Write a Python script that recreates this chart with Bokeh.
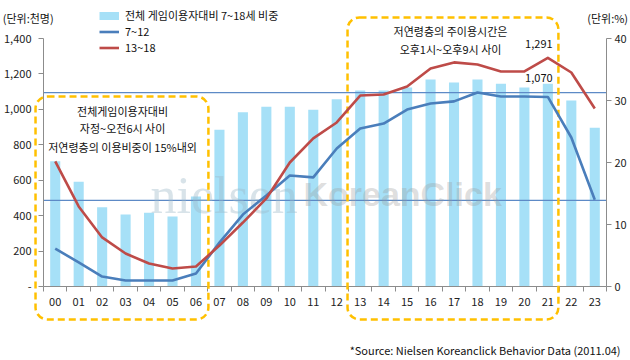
from bokeh.plotting import figure
from bokeh.models import (Range1d, LinearAxis, FixedTicker, NumeralTickFormatter,
                          BoxAnnotation, Label, Legend, LegendItem)
from bokeh.embed import file_html
from bokeh.resources import INLINE

# ---- data ----
hours = ["00", "01", "02", "03", "04", "05", "06", "07", "08", "09", "10", "11",
         "12", "13", "14", "15", "16", "17", "18", "19", "20", "21", "22", "23"]
share_pct = [20.2, 16.9, 12.8, 11.6, 11.9, 11.3, 14.5, 25.3, 28.1, 29.0, 29.0, 28.5,
             30.2, 31.6, 31.6, 32.1, 33.4, 32.9, 33.4, 32.7, 32.1, 32.7, 30.0, 25.6]
age_7_12 = [214, 136, 56, 34, 34, 34, 73, 248, 406, 514, 627, 616,
            779, 892, 920, 999, 1033, 1045, 1095, 1073, 1073, 1070, 841, 490]
age_13_18 = [706, 452, 277, 186, 130, 102, 113, 231, 361, 497, 700, 836,
             926, 1078, 1084, 1129, 1231, 1265, 1253, 1214, 1214, 1291, 1208, 1005]
ref_levels = [1095, 486]
left_ticks = [0, 200, 400, 600, 800, 1000, 1200, 1400]
right_ticks = [0, 10, 20, 30, 40]
series_names = ["전체 게임이용자대비 7~18세 비중", "7~12", "13~18"]
peak_hour = 21

KR = "Noto Sans CJK KR"
BAR = "#A6E0F7"
BLUE = "#4A7EBB"
RED = "#BE4B48"
ORANGE = "#FFC000"
AX = "#8C8C8C"

W, H = 630, 360
# plot area (pixels) inside the canvas
PL, PR, PT, PB = 43, 606, 38, 286
n = len(hours)
x_lo, x_hi = -0.5, n - 0.5
y_lo, y_hi = left_ticks[0], left_ticks[-1]
p_lo, p_hi = right_ticks[0], right_ticks[-1]
sx = (PR - PL) / (x_hi - x_lo)
sy = (PB - PT) / (y_hi - y_lo)
xr = Range1d(x_lo - PL / sx, x_hi + (W - PR) / sx)
yr = Range1d(y_lo - (H - PB) / sy, y_hi + PT / sy)
k = (p_hi - p_lo) / (y_hi - y_lo)
pr = Range1d(yr.start * k, yr.end * k)

idx = list(range(n))

p = figure(width=W, height=H, x_range=xr, y_range=yr,
           output_backend="svg", toolbar_location=None, tools="",
           min_border=0, x_axis_type=None, y_axis_type=None)
p.outline_line_color = None
p.grid.visible = False
p.background_fill_color = "white"
p.extra_y_ranges = {"pct": pr}

# bars
p.vbar(x=idx, top=share_pct, width=0.43, y_range_name="pct", fill_color=BAR, line_color=None)

# reference lines
p.segment(x0=[x_lo] * len(ref_levels), x1=[x_hi] * len(ref_levels), y0=ref_levels, y1=ref_levels,
          line_color="#5D8AC6", line_width=1.2)

# watermark
p.add_layout(Label(x=4.06, y=514, text="nielsen", text_font="Liberation Serif", text_font_size="52px",
                   text_color="#9DB8C8", text_alpha=0.4, text_baseline="alphabetic"))
p.add_layout(Label(x=10.58, y=525, text="KoreanClick", text_font="Liberation Sans", text_font_style="bold",
                   text_font_size="34px", text_color="#9A9A9A", text_alpha=0.32, text_baseline="alphabetic"))

# lines
r7 = p.line(x=idx, y=age_7_12, line_color=BLUE, line_width=2.6, line_join="round")
r13 = p.line(x=idx, y=age_13_18, line_color=RED, line_width=2.6, line_join="round")
r7.level = "overlay"
r13.level = "overlay"

def style_axis(a, standoff):
    a.major_label_text_font = KR
    a.major_label_text_font_size = "11px"
    a.major_label_text_color = "#222222"
    a.axis_line_color = AX
    a.major_label_standoff = standoff

# x axis
xa = LinearAxis(fixed_location=0, bounds=(x_lo, x_hi),
                ticker=FixedTicker(ticks=idx, minor_ticks=[i - 0.5 for i in range(n + 1)]))
xa.major_label_overrides = {i: h for i, h in enumerate(hours)}
xa.major_tick_line_color = None
xa.major_tick_in = 0
xa.major_tick_out = 0
xa.minor_tick_in = 0
xa.minor_tick_out = 5
xa.minor_tick_line_color = AX
style_axis(xa, 6)
p.add_layout(xa, "below")

# left axis
ya = LinearAxis(fixed_location=x_lo, bounds=(y_lo, y_hi), ticker=FixedTicker(ticks=left_ticks),
                formatter=NumeralTickFormatter(format="0,0"))
ya.major_label_overrides = {0: "-"}
ya.major_tick_in = 0
ya.major_tick_out = 5
ya.minor_tick_line_color = None
ya.major_tick_line_color = AX
style_axis(ya, 7)
p.add_layout(ya, "left")

# right axis
ra = LinearAxis(fixed_location=x_hi, y_range_name="pct", bounds=(p_lo, p_hi),
                ticker=FixedTicker(ticks=right_ticks))
ra.major_tick_in = 0
ra.major_tick_out = 5
ra.minor_tick_line_color = None
ra.major_tick_line_color = AX
style_axis(ra, 3)
p.add_layout(ra, "right")

# dashed rounded boxes
for l, r, b, t in [(-0.84, 6.53, -186, 1073), (12.46, 21.45, -186, 1519)]:
    p.add_layout(BoxAnnotation(left=l, right=r, bottom=b, top=t, fill_color=None, fill_alpha=0,
                               line_color=ORANGE, line_alpha=1.0, line_width=2.5, line_dash="7 4",
                               border_radius=12))

def lab(x, y, text, align="center", size="11px", xo=0, yo=0, color="#111111"):
    p.add_layout(Label(x=x, y=y, text=text, text_align=align, text_baseline="middle",
                       text_font=KR, text_font_size=size, text_color=color,
                       x_offset=xo, y_offset=yo))

# box notes
lab(2.87, 988, "전체게임이용자대비")
lab(2.87, 892, "자정~오전6시 사이")
lab(2.87, 785, "저연령층의 이용비중이 15%내외")
lab(16.85, 1440, "저연령층의 주이용시간은")
lab(16.85, 1338, "오후1시~오후9시 사이")

# data labels
lab(peak_hour, age_13_18[peak_hour], f"{age_13_18[peak_hour]:,}", xo=-9, yo=14)
lab(peak_hour, age_7_12[peak_hour], f"{age_7_12[peak_hour]:,}", xo=-9, yo=19)

# unit labels & source
lab(-2.24, 1518, "(단위:천명)", align="left")
lab(24.42, 1518, "(단위:%)", align="right")
lab(24.10, -356, "*Source: Nielsen Koreanclick Behavior Data (2011.04)", align="right")

# legend (location gives the legend's bottom-left corner, from the canvas bottom-left)
nan = float("nan")
rb = p.line(x=[nan, nan], y=[nan, nan], line_color=BAR, line_width=8)
row_h = 15
legend = Legend(items=[LegendItem(label=series_names[0], renderers=[rb]),
                       LegendItem(label=series_names[1], renderers=[r7]),
                       LegendItem(label=series_names[2], renderers=[r13])],
                location=(99, H - 10 - 3 * row_h), padding=0, margin=0, spacing=0,
                glyph_width=20, glyph_height=row_h, label_height=row_h, label_standoff=6,
                label_text_font=KR, label_text_font_size="11px", label_text_color="#111111",
                background_fill_alpha=0, border_line_color=None)
p.add_layout(legend)

open("out.html", "w").write(file_html(p, INLINE))
